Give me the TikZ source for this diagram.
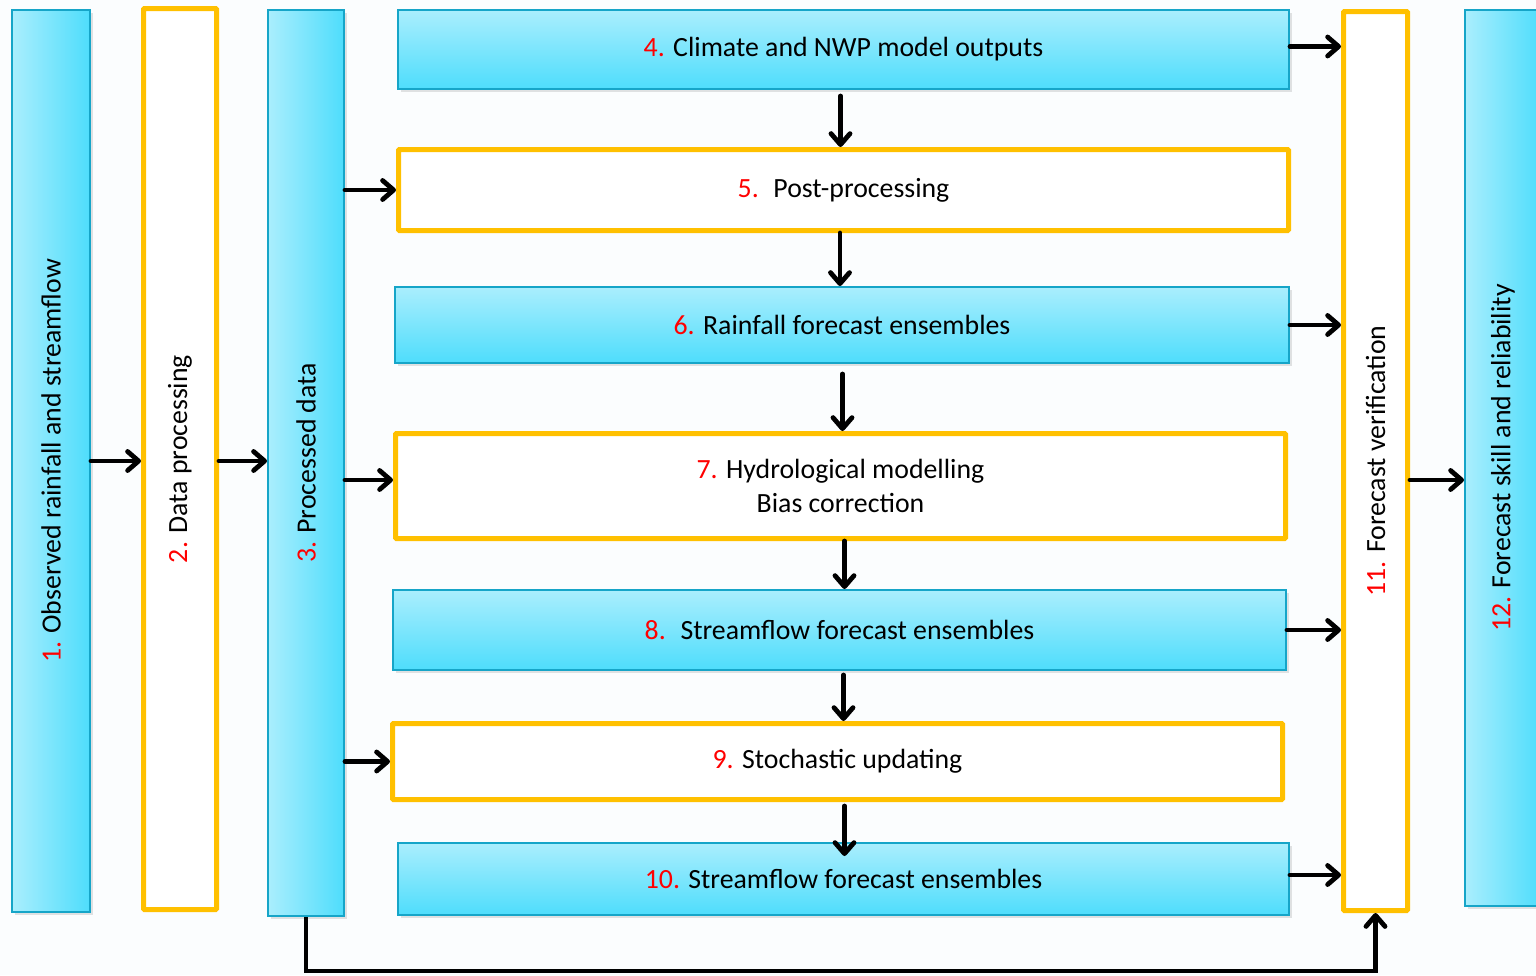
\documentclass[tikz,border=0pt]{standalone}
\usepackage{fontspec}
\setmainfont{Carlito}
\usetikzlibrary{arrows.meta,shadows}
\definecolor{skylight}{RGB}{170,238,253}
\definecolor{skydeep}{RGB}{78,221,252}
\definecolor{skyedge}{RGB}{22,165,200}
\definecolor{gold}{RGB}{255,192,0}
\definecolor{paper}{RGB}{251,253,254}
\newcommand{\stepno}[1]{\textcolor{red}{#1}}

\begin{document}
\begin{tikzpicture}[x=1pt,y=-1pt,
    every node/.style={font=\fontsize{27.8}{34}\selectfont,inner sep=0pt,align=center},
    shade/.style={drop shadow={shadow xshift=3pt,shadow yshift=-3pt,opacity=0.22}},
    hbox/.style={draw=skyedge,line width=2pt,top color=skylight,bottom color=skydeep,shade},
    vbox/.style={draw=skyedge,line width=2pt,left color=skylight,right color=skydeep,shade},
    gbox/.style={draw=gold,line width=5pt,fill=white,rounded corners=1pt},
    arr/.style={line width=4.8pt,line cap=round,-{Straight Barb[length=11pt,width=19pt,line cap=round,line join=round]}}]
        \fill[paper] (0,0) rectangle (1536,975); % page background
        \useasboundingbox (0,0) rectangle (1536,975);
        % columns on the left
        \node[vbox,minimum width=78pt,minimum height=902pt] (obs) at (51,461) {\rotatebox{90}{\stepno{1.} Observed rainfall and streamflow}};
        \node[gbox,minimum width=73pt,minimum height=901pt] (proc) at (180,459) {\rotatebox{90}{\stepno{2.} Data processing}};
        \node[vbox,minimum width=76pt,minimum height=906pt] (pdata) at (306,463) {\rotatebox{90}{\stepno{3.} Processed data}};
        % forecast chain in the middle
        \node[hbox,minimum width=891pt,minimum height=79pt] (clim) at (843.5,49.5) {\stepno{4.} Climate and NWP model outputs};
        \node[gbox,minimum width=890pt,minimum height=81pt] (post) at (843.5,190) {\stepno{5.}~ Post-processing};
        \node[hbox,minimum width=894pt,minimum height=76pt] (rain) at (842,325) {\stepno{6.} Rainfall forecast ensembles};
        \node[gbox,minimum width=890pt,minimum height=105pt] (hydro) at (840.5,486) {\stepno{7.} Hydrological modelling\\Bias correction};
        \node[hbox,minimum width=893pt,minimum height=80pt] (flow) at (839.5,630) {\stepno{8.}~ Streamflow forecast ensembles};
        \node[gbox,minimum width=890pt,minimum height=76pt] (stoch) at (837.5,761.5) {\stepno{9.} Stochastic updating};
        \node[hbox,minimum width=891pt,minimum height=72pt] (upd) at (843.5,879) {\stepno{10.} Streamflow forecast ensembles};
        % columns on the right
        \node[gbox,minimum width=64pt,minimum height=899pt] (verif) at (1375.5,461) {\rotatebox{90}{\stepno{11.} Forecast verification}};
        \node[vbox,minimum width=76pt,minimum height=896pt] (skill) at (1503,458) {\rotatebox{90}{\stepno{12.} Forecast skill and reliability}};
        % arrows
        \draw[arr] (obs.east) -- (obs.east -| proc.west);
        \draw[arr] (proc.east |- obs.east) -- (pdata.west |- obs.east);
        \draw[arr] (pdata.east |- post.west) -- (post.west);
        \draw[arr] ([yshift=6pt]pdata.east |- hydro.west) -- ([yshift=6pt]hydro.west);
        \draw[arr] (pdata.east |- stoch.west) -- (stoch.west);
        \draw[arr,shorten <=6pt] ([xshift=-3pt]post.north |- clim.south) -- ([xshift=-3pt]post.north);
        \draw[arr] ([xshift=-2pt]rain.north |- post.south) -- ([xshift=-2pt]rain.north);
        \draw[arr,shorten <=10pt] ([xshift=2pt]hydro.north |- rain.south) -- ([xshift=2pt]hydro.north);
        \draw[arr] ([xshift=5pt]flow.north |- hydro.south) -- ([xshift=5pt]flow.north);
        \draw[arr,shorten <=4pt] ([xshift=6pt]stoch.north |- flow.south) -- ([xshift=6pt]stoch.north);
        \draw[arr,shorten <=4pt] ([xshift=1pt]upd.north |- stoch.south) -- ([xshift=1pt,yshift=-14pt]upd.north);
        \draw[arr] ([yshift=3pt]clim.east) -- ([yshift=3pt]verif.west |- clim.east);
        \draw[arr] (rain.east) -- (verif.west |- rain.east);
        \draw[arr] (flow.east) -- (verif.west |- flow.east);
        \draw[arr] ([yshift=4pt]upd.east) -- ([yshift=4pt]verif.west |- upd.east);
        \draw[arr] ([yshift=-19pt]verif.east) -- ([yshift=-19pt]verif.east -| skill.west);
        \draw[arr,line cap=butt,line join=miter] (pdata.south) -- ++(0,54) -| (verif.south); % processed data feeds verification
    \end{tikzpicture}
\end{document}
